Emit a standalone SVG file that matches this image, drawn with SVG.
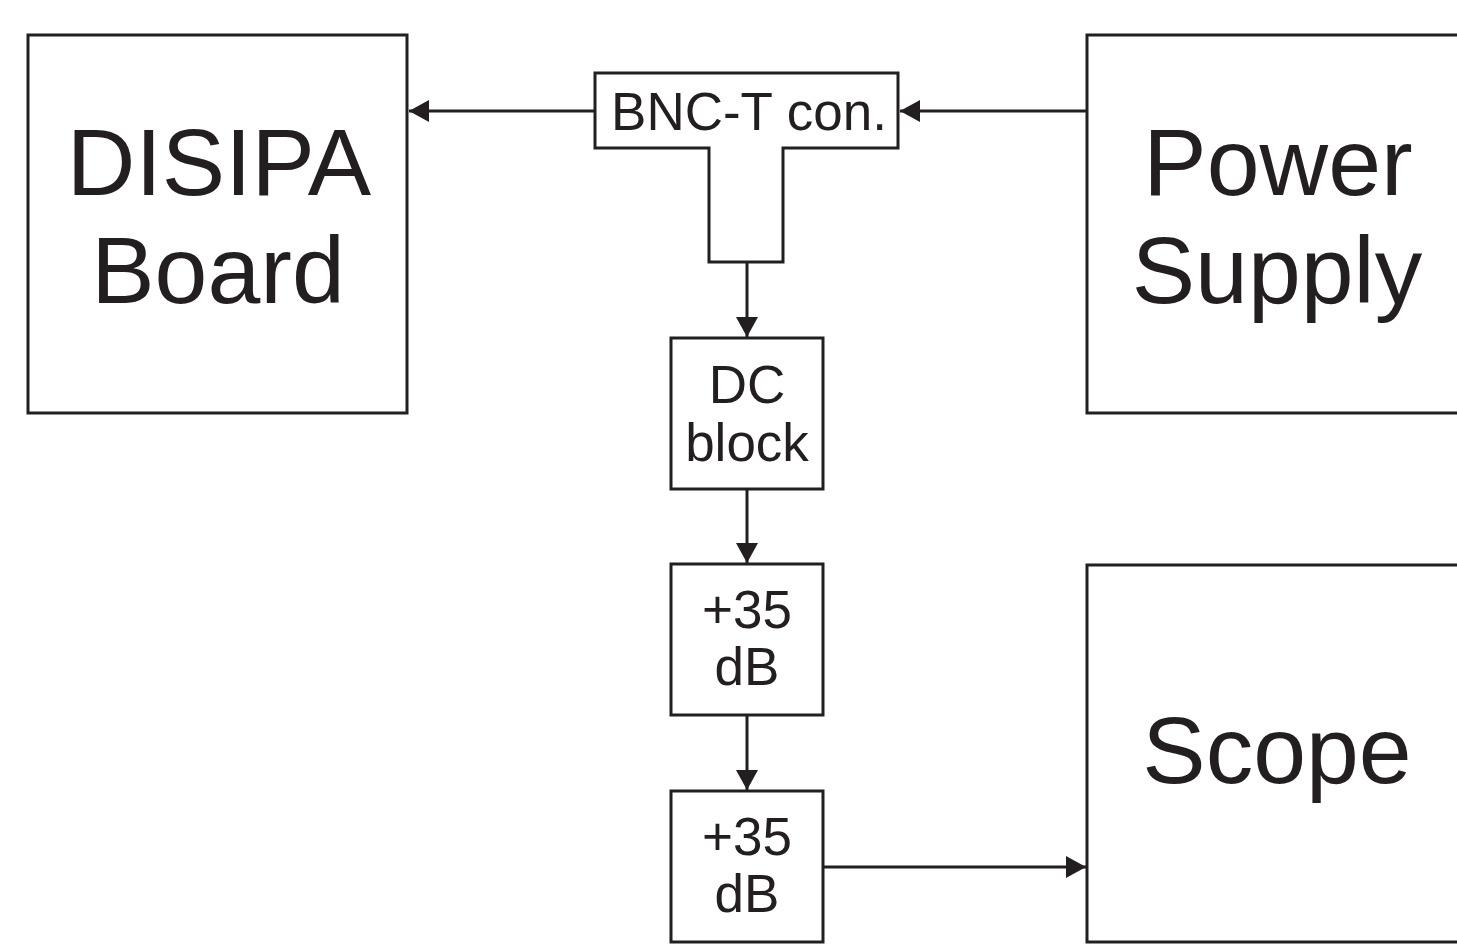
<svg xmlns="http://www.w3.org/2000/svg" width="1457" height="946" viewBox="0 0 1457 946">
<style>
.box{fill:#fff;stroke:#231f20;stroke-width:3}
.ln{fill:none;stroke:#231f20;stroke-width:3}
.t{font-family:"Liberation Sans",Arial,sans-serif;fill:#231f20;text-anchor:middle}
.big{font-size:95px}
.mid{font-size:53px}
.sm{font-size:53px}
</style>
<defs>
<marker id="ah" markerWidth="22" markerHeight="22" refX="20" refY="11" orient="auto" markerUnits="userSpaceOnUse">
<path d="M0,0 L20,11 L0,22 Z" fill="#231f20"/>
</marker>
</defs>
<rect width="1457" height="946" fill="#fff"/>
<g id="disipa">
<rect class="box" x="28" y="35" width="379" height="378"/>
<text class="t big" x="219" y="195">DISIPA</text>
<text class="t big" x="218" y="303">Board</text>
</g>
<g id="power">
<rect class="box" x="1087" y="35" width="400" height="378"/>
<text class="t big" x="1278" y="195">Power</text>
<text class="t big" x="1277" y="303">Supply</text>
</g>
<g id="scope">
<rect class="box" x="1087" y="565" width="400" height="377"/>
<text class="t big" x="1277" y="783">Scope</text>
</g>
<g id="bnc">
<path class="box" d="M595,73 H898 V148 H783 V262 H709 V148 H595 Z"/>
<text class="t mid" x="749" y="130">BNC-T con.</text>
</g>
<g id="dcblock">
<rect class="box" x="671" y="338" width="152" height="151"/>
<text class="t sm" x="747" y="403">DC</text>
<text class="t sm" x="747" y="461">block</text>
</g>
<g id="amp1">
<rect class="box" x="671" y="564" width="152" height="151"/>
<text class="t sm" x="747" y="628">+35</text>
<text class="t sm" x="747" y="685">dB</text>
</g>
<g id="amp2">
<rect class="box" x="671" y="791" width="152" height="151"/>
<text class="t sm" x="747" y="855">+35</text>
<text class="t sm" x="747" y="912">dB</text>
</g>
<g id="connectors">
<line class="ln" x1="595" y1="111" x2="409" y2="111" marker-end="url(#ah)"/>
<line class="ln" x1="1087" y1="111" x2="900" y2="111" marker-end="url(#ah)"/>
<line class="ln" x1="747" y1="262" x2="747" y2="337" marker-end="url(#ah)"/>
<line class="ln" x1="747" y1="489" x2="747" y2="563" marker-end="url(#ah)"/>
<line class="ln" x1="747" y1="715" x2="747" y2="790" marker-end="url(#ah)"/>
<line class="ln" x1="823" y1="867" x2="1086" y2="867" marker-end="url(#ah)"/>
</g>
</svg>
